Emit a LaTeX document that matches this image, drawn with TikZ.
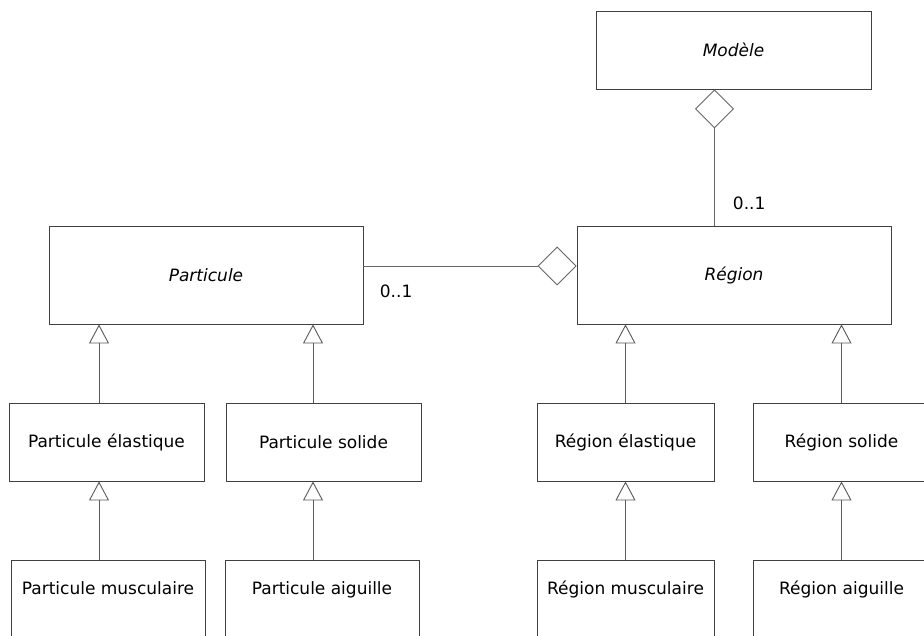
\documentclass[tikz,border=0pt]{standalone}
\usepackage{fontspec}
\setmainfont{DejaVu Sans}
\usetikzlibrary{arrows.meta, positioning}

\begin{document}
\begin{tikzpicture}[x=1pt, y=-1pt, line width=0.9pt,
    classbox/.style={rectangle, draw=black!75, fill=white, inner sep=4pt, font=\fontsize{17}{20}\selectfont},
    abstractbox/.style={classbox, font=\fontsize{17}{20}\selectfont\itshape},
    leafbox/.style={classbox, anchor=north, minimum height=80pt, text depth=25pt},
    mult/.style={inner sep=0pt, font=\fontsize{17}{20}\selectfont},
    gen/.style={draw=black!65, -{Triangle[open, width=20pt, length=19pt]}},
    agg/.style={draw=black!60, -{Diamond[open, width=39pt, length=39pt]}}]
        \useasboundingbox[fill=white] (0,0) rectangle (924,636);

        % Abstract classes
        \node[abstractbox, minimum width=275pt, minimum height=78pt] (modele) at (733.5,50) {Modèle};
        \node[abstractbox, minimum width=314pt, minimum height=98pt] (particule) at (206,275) {Particule};
        \node[abstractbox, minimum width=314pt, minimum height=98pt] (region) at (734,275) {Région};

        % Subclasses
        \node[classbox, minimum width=195pt, minimum height=78pt] (pelast) at (106.5,442) {Particule élastique};
        \node[classbox, minimum width=195pt, minimum height=78pt] (psolide) at (323.5,442) {Particule solide};
        \node[classbox, minimum width=177pt, minimum height=78pt] (relast) at (625.5,442) {Région élastique};
        \node[classbox, minimum width=177pt, minimum height=78pt] (rsolide) at (841.5,442) {Région solide};

        % Leaf classes (cut by the page)
        \node[leafbox, minimum width=194pt] (pmusc) at (108,560) {Particule musculaire};
        \node[leafbox, minimum width=194pt] (paig) at (322,560) {Particule aiguille};
        \node[leafbox, minimum width=177pt] (rmusc) at (625.5,560) {Région musculaire};
        \node[leafbox, minimum width=177pt] (raig) at (841.5,560) {Région aiguille};

        % Generalisations
        \coordinate (pl) at ([xshift=-7.5pt]pelast.north); \coordinate (pr) at ([xshift=-10.5pt]psolide.north);
        \draw[gen] (pl) -- (pl |- particule.south); \draw[gen] (pr) -- (pr |- particule.south);
        \draw[gen] (relast.north) -- (relast.north |- region.south); \draw[gen] (rsolide.north) -- (rsolide.north |- region.south);
        \draw[gen] (pmusc.north -| pl) -- (pelast.south -| pl); \draw[gen] (paig.north -| pr) -- (psolide.south -| pr);
        \draw[gen] (rmusc.north) -- (relast.south); \draw[gen] (raig.north) -- (rsolide.south);

        % Aggregations
        \coordinate (ml) at ([xshift=-19.5pt]region.north);
        \draw[agg] (ml) -- node[mult, pos=0.16, right=18pt] {0..1} (ml |- modele.south);
        \coordinate (pa) at ([yshift=9pt]particule.east);
        \draw[agg] (pa) -- node[mult, pos=0, below right=18pt and 16pt] {0..1} (pa -| region.west);
    \end{tikzpicture}
\end{document}
